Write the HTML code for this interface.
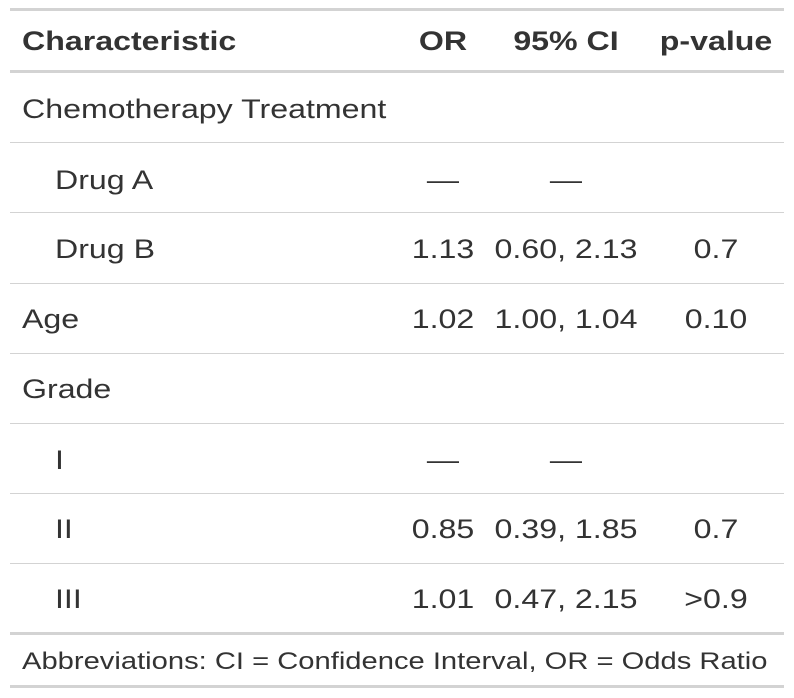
<!DOCTYPE html>
<html><head><style>
body{margin:0;width:794px;height:698px;background:#fff;font-family:"Liberation Sans",Arial,sans-serif;color:#333;position:relative;overflow:hidden}
.l{position:absolute;left:10px;width:774px;background:#d3d3d3}
.t{position:absolute;font-size:27px;line-height:30px;white-space:nowrap;transform:scaleX(1.19);transform-origin:0 0}
.c{transform:translateX(-50%) scaleX(1.19);transform-origin:50% 0}
b{font-weight:bold}
</style></head><body>
<div class="l" style="top:8px;height:3px"></div>
<div class="l" style="top:70px;height:3px"></div>
<div class="l" style="top:142px;height:1px"></div>
<div class="l" style="top:212px;height:1px"></div>
<div class="l" style="top:283px;height:1px"></div>
<div class="l" style="top:353px;height:1px"></div>
<div class="l" style="top:423px;height:1px"></div>
<div class="l" style="top:493px;height:1px"></div>
<div class="l" style="top:563px;height:1px"></div>
<div class="l" style="top:632px;height:3px"></div>
<div class="l" style="top:685px;height:3px"></div>

<div class="t" style="left:22px;top:26px"><b>Characteristic</b></div>
<div class="t c" style="left:443px;top:26px"><b>OR</b></div>
<div class="t c" style="left:566px;top:26px"><b>95% CI</b></div>
<div class="t c" style="left:716px;top:26px"><b>p-value</b></div>

<div class="t" style="left:22px;top:94px">Chemotherapy Treatment</div>

<div class="t" style="left:55px;top:165px">Drug A</div>
<div class="t c" style="left:443px;top:165px">—</div>
<div class="t c" style="left:566px;top:165px">—</div>

<div class="t" style="left:55px;top:234px">Drug B</div>
<div class="t c" style="left:443px;top:234px">1.13</div>
<div class="t c" style="left:566px;top:234px">0.60, 2.13</div>
<div class="t c" style="left:716px;top:234px">0.7</div>

<div class="t" style="left:22px;top:304px">Age</div>
<div class="t c" style="left:443px;top:304px">1.02</div>
<div class="t c" style="left:566px;top:304px">1.00, 1.04</div>
<div class="t c" style="left:716px;top:304px">0.10</div>

<div class="t" style="left:22px;top:374px">Grade</div>

<div class="t" style="left:55px;top:445px">I</div>
<div class="t c" style="left:443px;top:445px">—</div>
<div class="t c" style="left:566px;top:445px">—</div>

<div class="t" style="left:55px;top:514px">II</div>
<div class="t c" style="left:443px;top:514px">0.85</div>
<div class="t c" style="left:566px;top:514px">0.39, 1.85</div>
<div class="t c" style="left:716px;top:514px">0.7</div>

<div class="t" style="left:55px;top:584px">III</div>
<div class="t c" style="left:443px;top:584px">1.01</div>
<div class="t c" style="left:566px;top:584px">0.47, 2.15</div>
<div class="t c" style="left:716px;top:584px">&gt;0.9</div>

<div class="t" style="left:22px;top:647px;font-size:24.5px">Abbreviations: CI = Confidence Interval, OR = Odds Ratio</div>
</body></html>
